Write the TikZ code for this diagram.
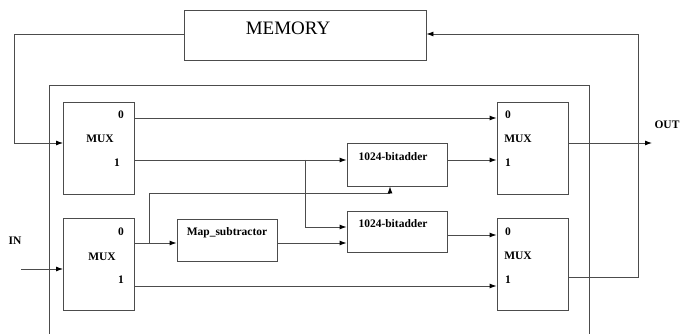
\documentclass[tikz,border=0pt]{standalone}
\usepackage{fontspec}
\setmainfont{Liberation Serif}
\usetikzlibrary{arrows.meta,positioning}

\begin{document}
\begin{tikzpicture}[x=1pt,y=-1pt,
  blk/.style={draw=black!70,line width=0.9pt,inner sep=0pt},
  muxbox/.style={blk,minimum width=71pt,minimum height=92pt},
  unitbox/.style={blk,minimum width=100pt,minimum height=42pt},
  lbl/.style={font=\bfseries\fontsize{11.5}{13}\selectfont,inner sep=0pt},
  wire/.style={black!70,line width=0.9pt},
  arr/.style={wire,-{Latex[length=7pt,width=5pt,black]}}]
  \useasboundingbox (0,0) rectangle (683,334);
  % memory block
  \node[blk,minimum width=242pt,minimum height=50pt] (mem) at (305,35) {};
  \node[font=\fontsize{19}{21}\selectfont,inner sep=0pt] (memtxt) at (288,28) {MEMORY};
  % outer frame
  \draw[wire] (49,334) -- (49,85) -- (589,85) -- (589,334);
  % multiplexers
  \node[muxbox] (muxa) at (99,148) {};
  \node[muxbox] (muxb) at (99,264.5) {};
  \node[muxbox] (muxc) at (532.5,148) {};
  \node[muxbox] (muxd) at (532.5,264.5) {};
  \node[lbl] (muxatxt) at (100,139) {MUX};
  \node[lbl] (muxa0) at (121,115) {0};
  \node[lbl] (muxa1) at (117,163) {1};
  \node[lbl] (muxbtxt) at (102,257) {MUX};
  \node[lbl] (muxb0) at (121,232) {0};
  \node[lbl] (muxb1) at (121,280) {1};
  \node[lbl] (muxctxt) at (518,139) {MUX};
  \node[lbl] (muxc0) at (508,115) {0};
  \node[lbl] (muxc1) at (508,163) {1};
  \node[lbl] (muxdtxt) at (518,256) {MUX};
  \node[lbl] (muxd0) at (508,232) {0};
  \node[lbl] (muxd1) at (508,280) {1};
  % adders and subtractor
  \node[unitbox,minimum height=43pt] (adda) at (397,164.5) {};
  \node[unitbox,minimum height=41pt] (addb) at (397,231.5) {};
  \node[unitbox] (mapsub) at (227,240) {};
  \node[lbl] (addatxt) at (393,157) {1024-bitadder};
  \node[lbl] (addbtxt) at (393,224) {1024-bitadder};
  \node[lbl] (mapsubtxt) at (227,233) {Map\_subtractor};
  % in / out
  \coordinate (in) at (21,269);
  \coordinate (out) at (652,143);
  \node[lbl] (intxt) at (15,241) {IN};
  \node[lbl] (outtxt) at (667,125) {OUT};
  \coordinate (tapa) at (305,160);
  \coordinate (tapb) at (149,243);
  % connections
  \draw[arr] (mem.west |- 0,34) -| (14,143) -- (muxa.west |- 0,143);
  \draw[arr] (muxd.east |- 0,277) -| (638,34) -- (mem.east |- 0,34);
  \draw[arr] (in) -- (muxb.west |- in);
  \draw[arr] (muxa.east |- 0,118) -- (muxc.west |- 0,118);
  \draw[arr] (muxa.east |- 0,160) -- (adda.west |- 0,160);
  \draw[arr] (tapa) |- (addb.west |- 0,227);
  \draw[arr] (muxb.east |- 0,243) -- (mapsub.west |- 0,243);
  \draw[arr] (tapb) |- (390,193) -- (adda.south -| 390,0);
  \draw[arr] (mapsub.east |- 0,243) -- (addb.west |- 0,243);
  \draw[arr] (adda.east |- 0,160) -- (muxc.west |- 0,160);
  \draw[arr] (addb.east |- 0,235) -- (muxd.west |- 0,235);
  \draw[arr] (muxb.east |- 0,286) -- (muxd.west |- 0,286);
  \draw[arr] (muxc.east |- 0,143) -- (out);
\end{tikzpicture}
\end{document}
